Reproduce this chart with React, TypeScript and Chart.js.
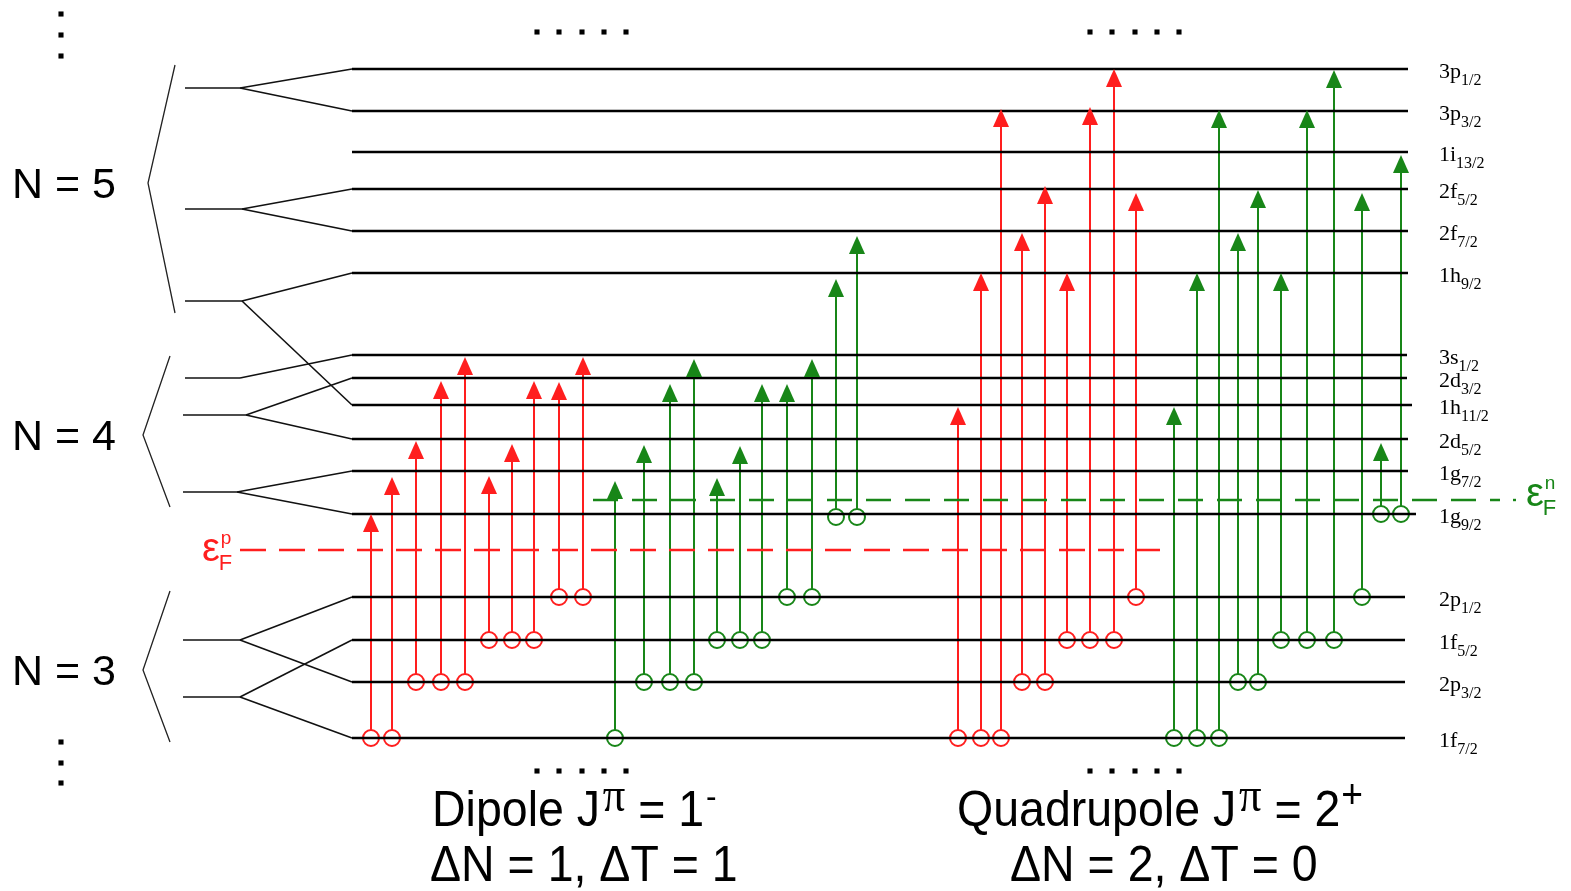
import React, { useEffect, useRef } from 'react';
import Chart from 'chart.js/auto';

// ---------- data (energy axis: values grow downward, same units as the x axis) ----------
const levelMain = ['3p', '3p', '1i', '2f', '2f', '1h', '3s', '2d', '1h', '2d', '1g', '1g', '2p', '1f', '2p', '1f'];
const levelSub = ['1/2', '3/2', '13/2', '5/2', '7/2', '9/2', '1/2', '3/2', '11/2', '5/2', '7/2', '9/2', '1/2', '5/2', '3/2', '7/2'];
const levelE = [69, 111, 152, 189, 231, 273, 355, 378, 405, 439, 471, 514, 597, 640, 682, 738];
const levelEnd = [1408, 1408, 1408, 1408, 1408, 1408, 1407, 1407, 1412, 1408, 1408, 1416, 1405, 1405, 1405, 1405];
const levelStart = 352;

// parent (unsplit) shells on the left and their split levels
const parentE = [88, 209, 301, 378, 415, 492, 640, 697];
const parentX0 = [185, 185, 185, 185, 183, 183, 183, 183];
const parentX1 = [240, 242, 242, 240, 246, 237, 240, 240];
const parentTargets = [[69, 111], [189, 231], [273, 405], [355], [378, 439], [471, 514], [597, 682], [640, 738]];

// major shell brackets
const shellLabels = ['N = 5', 'N = 4', 'N = 3'];
const bracketX = [[175, 148, 175], [170, 143, 170], [170, 143, 170]];
const bracketE = [[65, 183, 313], [356, 435, 507], [591, 670, 742]];

// Fermi levels
const fermiP = 550;
const fermiN = 500;

// Dipole 1- transitions
const dipRedX = [371, 392, 416, 441, 465, 489, 512, 534, 559, 583];
const dipRedFrom = [738, 738, 682, 682, 682, 640, 640, 640, 597, 597];
const dipRedTo = [514, 477, 441, 381, 357, 476, 444, 381, 382, 357];
const dipGreenX = [615, 644, 670, 694, 717, 740, 762, 787, 812, 836, 857];
const dipGreenFrom = [738, 682, 682, 682, 640, 640, 640, 597, 597, 517, 517];
const dipGreenTo = [481, 445, 384, 359, 478, 446, 384, 384, 359, 279, 236];

// Quadrupole 2+ transitions
const quadRedX = [958, 981, 1001, 1022, 1045, 1067, 1090, 1114, 1136];
const quadRedFrom = [738, 738, 738, 682, 682, 640, 640, 640, 597];
const quadRedTo = [407, 273, 109, 233, 186, 273, 107, 69, 193];
const quadGreenX = [1174, 1197, 1219, 1238, 1258, 1281, 1307, 1334, 1362, 1381, 1401];
const quadGreenFrom = [738, 738, 738, 682, 682, 640, 640, 640, 597, 514, 514];
const quadGreenTo = [407, 273, 110, 233, 190, 273, 110, 70, 193, 443, 155];

// "continuation" dots
const hDotsX = [537, 559, 582, 604, 626, 1090, 1112, 1135, 1157, 1179];
const hDotsE = [32, 771];
const vDotsE = [14, 35, 56, 742, 763, 783];
const vDotsX = 61;

const RED = 'rgb(255,30,30)';
const GREEN = 'rgb(24,134,24)';
const SANS = '"Liberation Sans", Arial, sans-serif';
const SERIF = '"Liberation Serif", "Times New Roman", serif';

const CIRCLE_R = 8;
const HEAD_LEN = 18;
const HEAD_HALF = 8;

export default function App() {
  const ref = useRef<HTMLCanvasElement>(null);

  useEffect(() => {
    document.body.style.margin = '0';
    const datasets: any[] = [];
    const poly = (pts: any[], color: string, width: number, dash: number[] = []) =>
      datasets.push({
        data: pts,
        showLine: true,
        borderColor: color,
        borderWidth: width,
        borderDash: dash,
        pointRadius: 0,
        pointHoverRadius: 0,
        fill: false,
        tension: 0,
        spanGaps: false,
        borderCapStyle: 'butt',
      });

    // level lines
    levelE.forEach((e, i) => poly([{ x: levelStart, y: e }, { x: levelEnd[i], y: e }], '#000', 2.6));
    // parent shells and splitting connectors
    parentE.forEach((e, i) => {
      poly([{ x: parentX0[i], y: e }, { x: parentX1[i], y: e }], '#111', 1.6);
      parentTargets[i].forEach((t) => poly([{ x: parentX1[i], y: e }, { x: levelStart, y: t }], '#111', 1.6));
    });
    // brackets
    bracketX.forEach((xs, i) => poly(xs.map((x, j) => ({ x, y: bracketE[i][j] })), '#222', 1.3));
    // Fermi levels
    poly([{ x: 240, y: fermiP }, { x: 1160, y: fermiP }], RED, 2.4, [26, 13]);
    poly([{ x: 593, y: fermiN }, { x: 1500, y: fermiN }], GREEN, 2.4, [25, 14]);
    poly([{ x: 1513, y: fermiN }, { x: 1516, y: fermiN }], GREEN, 2.4);

    // transitions
    const groups = [
      { x: dipRedX, from: dipRedFrom, to: dipRedTo, color: RED },
      { x: dipGreenX, from: dipGreenFrom, to: dipGreenTo, color: GREEN },
      { x: quadRedX, from: quadRedFrom, to: quadRedTo, color: RED },
      { x: quadGreenX, from: quadGreenFrom, to: quadGreenTo, color: GREEN },
    ];
    groups.forEach((g) => {
      g.x.forEach((x, i) =>
        poly([{ x, y: g.from[i] - CIRCLE_R }, { x, y: g.to[i] + HEAD_LEN - 2 }], g.color, 2)
      );
      datasets.push({
        data: g.x.map((x, i) => ({ x, y: g.from[i] })),
        showLine: false,
        pointStyle: 'circle',
        pointRadius: CIRCLE_R,
        pointHoverRadius: CIRCLE_R,
        pointBackgroundColor: 'rgba(0,0,0,0)',
        pointBorderColor: g.color,
        pointBorderWidth: 2,
      });
    });

    // dots
    const dotPts: any[] = [];
    hDotsE.forEach((e) => hDotsX.forEach((x) => dotPts.push({ x, y: e })));
    vDotsE.forEach((e) => dotPts.push({ x: vDotsX, y: e }));
    datasets.push({
      data: dotPts,
      showLine: false,
      pointStyle: 'rect',
      pointRadius: 3.6,
      pointHoverRadius: 3.6,
      pointBackgroundColor: '#000',
      pointBorderWidth: 0,
    });

    const textPlugin = {
      id: 'diagramText',
      afterDatasetsDraw(chart: any) {
        const ctx: CanvasRenderingContext2D = chart.ctx;
        const xs = chart.scales.x;
        const ys = chart.scales.y;
        const X = (v: number) => xs.getPixelForValue(v);
        const Y = (v: number) => ys.getPixelForValue(v);

        // arrow heads
        groups.forEach((g) => {
          ctx.fillStyle = g.color;
          g.x.forEach((x, i) => {
            const px = X(x);
            const py = Y(g.to[i]);
            ctx.beginPath();
            ctx.moveTo(px, py);
            ctx.lineTo(px - HEAD_HALF, py + HEAD_LEN);
            ctx.lineTo(px + HEAD_HALF, py + HEAD_LEN);
            ctx.closePath();
            ctx.fill();
          });
        });

        ctx.save();
        ctx.textBaseline = 'alphabetic';
        ctx.textAlign = 'left';

        // level labels
        levelE.forEach((e, i) => {
          const bx = X(1439);
          const by = Y(e) + 9;
          ctx.fillStyle = '#000';
          ctx.font = `22px ${SERIF}`;
          ctx.fillText(levelMain[i], bx, by);
          const w = ctx.measureText(levelMain[i]).width;
          ctx.font = `16px ${SERIF}`;
          ctx.fillText(levelSub[i], bx + w, by + 7);
        });

        // shell labels
        ctx.fillStyle = '#000';
        ctx.font = `43px ${SANS}`;
        shellLabels.forEach((s, i) => {
          ctx.fillText(s, X(12), Y(bracketE[i][1]) + 15);
        });

        // Fermi labels
        const fermiLabel = (x: number, base: number, sup: string, color: string) => {
          ctx.fillStyle = color;
          ctx.font = `40px ${SANS}`;
          ctx.fillText('ε', x, base);
          const w = ctx.measureText('ε').width;
          ctx.font = `19px ${SANS}`;
          ctx.fillText(sup, x + w + 1, base - 17);
          ctx.font = `22px ${SANS}`;
          ctx.fillText('F', x + w - 1, base + 9);
        };
        fermiLabel(X(202), Y(fermiP) + 11, 'p', RED);
        fermiLabel(X(1526), Y(fermiN) + 6, 'n', GREEN);

        // bottom titles
        const rich = (x: number, base: number, parts: any[]) => {
          ctx.save();
          ctx.translate(x, base);
          ctx.scale(0.93, 1);
          let cx = 0;
          parts.forEach((p) => {
            ctx.font = p.font;
            ctx.fillText(p.t, cx, p.dy || 0);
            cx += ctx.measureText(p.t).width + (p.gap || 0);
          });
          ctx.restore();
        };
        ctx.fillStyle = '#000';
        const big = `50px ${SANS}`;
        rich(X(432), Y(826), [
          { t: 'Dipole J', font: big, gap: 3 },
          { t: 'π', font: `48px ${SERIF}`, dy: -15 },
          { t: ' = 1', font: big, gap: 2 },
          { t: '-', font: `34px ${SANS}`, dy: -18 },
        ]);
        rich(X(430), Y(881), [{ t: 'ΔN = 1, ΔT = 1', font: big }]);
        rich(X(957), Y(826), [
          { t: 'Quadrupole J', font: big, gap: 3 },
          { t: 'π', font: `48px ${SERIF}`, dy: -15 },
          { t: ' = 2', font: big, gap: 1 },
          { t: '+', font: `40px ${SANS}`, dy: -18 },
        ]);
        rich(X(1010), Y(881), [{ t: 'ΔN = 2, ΔT = 0', font: big }]);
        ctx.restore();
      },
    };

    const chart = new Chart(ref.current as HTMLCanvasElement, {
      type: 'scatter',
      data: { datasets },
      options: {
        animation: false,
        responsive: false,
        maintainAspectRatio: false,
        devicePixelRatio: 1,
        layout: { padding: 0, autoPadding: false },
        events: [],
        plugins: { legend: { display: false }, tooltip: { enabled: false } },
        scales: {
          x: { type: 'linear', min: 0, max: 1571, display: false },
          y: { type: 'linear', min: 0, max: 891, reverse: true, display: false },
        },
      },
      plugins: [textPlugin],
    } as any);
    return () => chart.destroy();
  }, []);

  return (
    <div style={{ width: 1571, height: 891, background: '#fff' }}>
      <canvas ref={ref} width={1571} height={891} style={{ display: 'block' }} />
    </div>
  );
}
